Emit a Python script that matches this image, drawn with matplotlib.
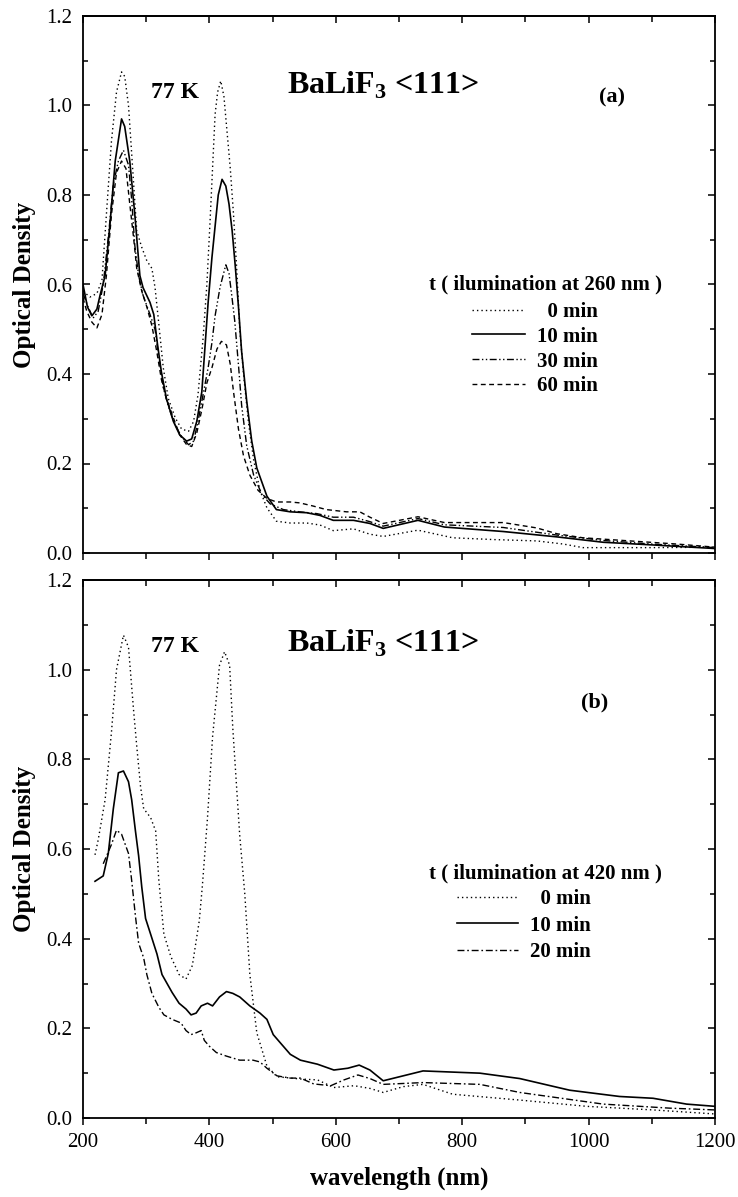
import matplotlib
matplotlib.use("Agg")
import matplotlib.pyplot as plt
from matplotlib.lines import Line2D
from matplotlib.ticker import MultipleLocator, FormatStrFormatter

plt.rcParams['font.family'] = ['Liberation Serif', 'DejaVu Serif']
plt.rcParams['mathtext.fontset'] = 'custom'
plt.rcParams['mathtext.rm'] = 'Liberation Serif'
plt.rcParams['mathtext.bf'] = 'Liberation Serif:bold'

# (a) illumination at 260 nm
a_0min_x = [200, 211, 222, 230, 237, 245, 253, 261, 266, 272, 277, 285, 293, 301, 309, 314, 319, 327,
            335, 346, 356, 367, 375, 382, 390, 396, 401, 405, 409, 413, 418, 423, 428, 433, 438, 443,
            448, 454, 462, 470, 480, 491, 506, 528, 554, 575, 596, 628, 654, 675, 730, 785, 850, 918,
            960, 991, 1100, 1200]
a_0min_y = [0.585, 0.572, 0.58, 0.61, 0.756, 0.92, 1.03, 1.075, 1.065, 1.0, 0.893, 0.72, 0.683, 0.653,
            0.636, 0.593, 0.525, 0.414, 0.345, 0.302, 0.277, 0.272, 0.294, 0.354, 0.48, 0.60, 0.74, 0.86,
            0.98, 1.03, 1.055, 1.02, 0.94, 0.86, 0.76, 0.64, 0.50, 0.40, 0.29, 0.208, 0.14, 0.101, 0.071,
            0.067, 0.067, 0.0625, 0.05, 0.054, 0.042, 0.037, 0.051, 0.034, 0.03, 0.027, 0.02, 0.012,
            0.012, 0.013]

a_10min_x = [200, 207, 214, 222, 227, 235, 243, 251, 261, 266, 274, 282, 290, 295, 306, 312, 318, 324,
             332, 343, 353, 364, 372, 380, 388, 392, 398, 404, 409, 414, 420, 426, 431, 436, 441, 446,
             451, 459, 467, 475, 491, 506, 528, 554, 575, 596, 628, 654, 675, 730, 772, 865, 950, 1023,
             1102, 1150, 1200]
a_10min_y = [0.60, 0.55, 0.53, 0.545, 0.576, 0.62, 0.74, 0.876, 0.97, 0.953, 0.876, 0.756, 0.62, 0.593,
             0.56, 0.533, 0.465, 0.405, 0.345, 0.294, 0.264, 0.25, 0.255, 0.294, 0.36, 0.44, 0.56, 0.66,
             0.73, 0.80, 0.835, 0.82, 0.78, 0.72, 0.64, 0.55, 0.45, 0.34, 0.25, 0.19, 0.127, 0.097, 0.092,
             0.09, 0.084, 0.073, 0.073, 0.066, 0.055, 0.073, 0.058, 0.048, 0.036, 0.024, 0.018, 0.014,
             0.01]

a_30min_x = [200, 208, 216, 224, 232, 240, 248, 256, 264, 272, 277, 282, 288, 295, 306, 314, 319, 327,
             335, 346, 356, 367, 375, 382, 390, 398, 404, 409, 417, 426, 431, 435, 440, 446, 451, 459,
             470, 483, 496, 517, 543, 570, 596, 628, 654, 675, 730, 772, 865, 950, 1023, 1100, 1200]
a_30min_y = [0.58, 0.55, 0.525, 0.54, 0.60, 0.705, 0.824, 0.876, 0.90, 0.867, 0.79, 0.687, 0.62, 0.576,
             0.533, 0.50, 0.448, 0.37, 0.328, 0.285, 0.26, 0.242, 0.25, 0.294, 0.354, 0.414, 0.47, 0.53,
             0.595, 0.644, 0.625, 0.58, 0.52, 0.42, 0.33, 0.24, 0.174, 0.131, 0.11, 0.097, 0.092, 0.088,
             0.08, 0.08, 0.07, 0.06, 0.077, 0.063, 0.057, 0.04, 0.028, 0.02, 0.012]

a_60min_x = [200, 206, 214, 222, 230, 237, 245, 253, 261, 268, 274, 280, 285, 293, 301, 309, 317, 324,
             332, 343, 353, 364, 372, 380, 388, 396, 404, 412, 419, 427, 433, 438, 446, 454, 464, 477,
             491, 506, 528, 543, 564, 585, 617, 638, 654, 675, 730, 772, 865, 918, 950, 991, 1076, 1140,
             1200]
a_60min_y = [0.57, 0.54, 0.516, 0.503, 0.533, 0.62, 0.756, 0.85, 0.876, 0.859, 0.78, 0.705, 0.636, 0.585,
             0.55, 0.508, 0.448, 0.388, 0.345, 0.302, 0.264, 0.242, 0.238, 0.268, 0.32, 0.38, 0.414,
             0.456, 0.473, 0.465, 0.422, 0.362, 0.277, 0.217, 0.174, 0.14, 0.122, 0.114, 0.114, 0.112,
             0.105, 0.097, 0.092, 0.092, 0.08, 0.066, 0.081, 0.068, 0.068, 0.056, 0.043, 0.034, 0.026,
             0.02, 0.013]

# (b) illumination at 420 nm
b_0min_x = [219, 224, 235, 245, 253, 264, 272, 280, 285, 291, 296, 307, 315, 320, 328, 339, 352, 363,
            373, 384, 389, 397, 405, 416, 424, 432, 437, 448, 456, 464, 475, 491, 507, 544, 571, 597,
            629, 654, 675, 707, 738, 785, 891, 997, 1102, 1200]
b_0min_y = [0.587, 0.62, 0.71, 0.86, 1.0, 1.077, 1.05, 0.91, 0.83, 0.74, 0.69, 0.67, 0.64, 0.53, 0.41,
            0.36, 0.32, 0.31, 0.34, 0.44, 0.52, 0.67, 0.85, 1.01, 1.04, 1.01, 0.87, 0.63, 0.50, 0.32,
            0.19, 0.116, 0.092, 0.087, 0.085, 0.068, 0.072, 0.066, 0.057, 0.07, 0.075, 0.053, 0.04,
            0.026, 0.018, 0.009]

b_10min_x = [219, 232, 240, 248, 256, 264, 272, 277, 283, 288, 293, 299, 307, 317, 325, 333, 341, 352,
             363, 371, 379, 387, 397, 405, 416, 427, 437, 448, 464, 480, 491, 501, 512, 528, 544, 571,
             597, 619, 637, 654, 675, 738, 828, 891, 970, 1049, 1102, 1155, 1200]
b_10min_y = [0.528, 0.54, 0.59, 0.69, 0.77, 0.774, 0.75, 0.71, 0.64, 0.585, 0.515, 0.445, 0.41, 0.366,
             0.32, 0.30, 0.28, 0.256, 0.243, 0.23, 0.234, 0.25, 0.256, 0.25, 0.27, 0.282, 0.278, 0.27,
             0.25, 0.234, 0.22, 0.186, 0.168, 0.142, 0.129, 0.12, 0.107, 0.111, 0.118, 0.107, 0.083,
             0.105, 0.10, 0.088, 0.062, 0.048, 0.044, 0.031, 0.026]

b_20min_x = [232, 245, 253, 261, 272, 277, 283, 288, 296, 301, 309, 320, 328, 341, 355, 363, 371, 379,
             387, 392, 400, 411, 427, 448, 469, 480, 491, 507, 528, 544, 565, 592, 613, 635, 654, 675,
             738, 828, 891, 1023, 1128, 1200]
b_20min_y = [0.567, 0.61, 0.642, 0.633, 0.59, 0.53, 0.45, 0.39, 0.357, 0.32, 0.278, 0.247, 0.23, 0.22,
             0.212, 0.195, 0.186, 0.19, 0.195, 0.173, 0.16, 0.146, 0.138, 0.129, 0.129, 0.125, 0.111,
             0.094, 0.089, 0.089, 0.076, 0.072, 0.085, 0.096, 0.088, 0.075, 0.079, 0.075, 0.057, 0.031,
             0.022, 0.018]

a_labels = ['  0 min', '10 min', '30 min', '60 min']
b_labels = ['  0 min', '10 min', '20 min']

dotted = (0, (1, 2.2))
dashed = (0, (3.5, 2.5))
dashdotdot = (0, (5, 1.8, 1, 1.8, 1, 1.8))
dashdot = (0, (5, 2, 1.2, 2))

fig = plt.figure(figsize=(7.38, 11.97), dpi=100)
ax1 = fig.add_axes([83 / 738, 644 / 1197, 632 / 738, 537 / 1197])
ax2 = fig.add_axes([83 / 738, 79 / 1197, 632 / 738, 538 / 1197])


def style_axes(ax, show_xlabels):
    ax.set_xlim(200, 1200)
    ax.set_ylim(0, 1.2)
    ax.xaxis.set_major_locator(MultipleLocator(200))
    ax.xaxis.set_minor_locator(MultipleLocator(100))
    ax.yaxis.set_major_locator(MultipleLocator(0.2))
    ax.yaxis.set_minor_locator(MultipleLocator(0.1))
    ax.yaxis.set_major_formatter(FormatStrFormatter('%.1f'))
    for s in ax.spines.values():
        s.set_linewidth(1.3)
    ax.tick_params(axis='y', which='both', direction='in', left=True, right=True,
                   width=1.1, labelsize=15, pad=8)
    ax.tick_params(axis='y', which='major', length=5)
    ax.tick_params(axis='y', which='minor', length=3.5)
    ax.tick_params(axis='x', which='both', direction='out', bottom=True, top=False,
                   width=1.1, labelsize=15, pad=6, labelbottom=show_xlabels)
    ax.tick_params(axis='x', which='major', length=5)
    ax.tick_params(axis='x', which='minor', length=4)
    sec = ax.secondary_xaxis('top')
    sec.xaxis.set_major_locator(MultipleLocator(200))
    sec.xaxis.set_minor_locator(MultipleLocator(100))
    sec.tick_params(axis='x', which='both', direction='in', width=1.1, labeltop=False)
    sec.tick_params(axis='x', which='major', length=5)
    sec.tick_params(axis='x', which='minor', length=4)
    sec.spines['top'].set_linewidth(1.3)
    ax.set_ylabel('Optical Density', fontsize=18, fontweight='bold', labelpad=7)


def add_key(ax, handles, labels, title, title_xy, key_xy, hlen, spacing):
    ax.text(title_xy[0], title_xy[1], title, fontsize=15, fontweight='bold',
            ha='left', va='center')
    ax.legend(handles, labels, loc='upper left', bbox_to_anchor=key_xy,
              bbox_transform=ax.transData, frameon=False,
              prop={'size': 15, 'weight': 'bold'}, handlelength=hlen,
              handletextpad=0.58, labelspacing=spacing, borderpad=0, borderaxespad=0)


# panel (a)
ax1.plot(a_0min_x, a_0min_y, color='black', lw=1.0, linestyle=dotted)
ax1.plot(a_10min_x, a_10min_y, color='black', lw=1.2, linestyle='-')
ax1.plot(a_30min_x, a_30min_y, color='black', lw=1.0, linestyle=dashdotdot)
ax1.plot(a_60min_x, a_60min_y, color='black', lw=1.0, linestyle=dashed)
style_axes(ax1, False)
ax1.text(346, 1.03, '77 K', fontsize=17, fontweight='bold', ha='center', va='center')
ax1.text(522, 1.027, 'BaLiF$_{\\mathbf{3}}$ <111>', fontsize=23, fontweight='bold',
         ha='left', va='baseline')
ax1.text(1037, 1.017, '(a)', fontsize=16, fontweight='bold', ha='center', va='center')
h1 = [Line2D([], [], color='black', lw=1.0, linestyle=dotted),
      Line2D([], [], color='black', lw=1.2, linestyle='-'),
      Line2D([], [], color='black', lw=1.0, linestyle=dashdotdot),
      Line2D([], [], color='black', lw=1.0, linestyle=dashed)]
add_key(ax1, h1, a_labels, 't ( ilumination at 260 nm )', (747, 0.599), (815, 0.561),
        2.55, 0.23)

# panel (b)
ax2.plot(b_0min_x, b_0min_y, color='black', lw=1.0, linestyle=dotted)
ax2.plot(b_10min_x, b_10min_y, color='black', lw=1.2, linestyle='-')
ax2.plot(b_20min_x, b_20min_y, color='black', lw=1.0, linestyle=dashdot)
style_axes(ax2, True)
ax2.set_xlabel('wavelength (nm)', fontsize=18, fontweight='bold', labelpad=10)
ax2.text(345, 1.051, '77 K', fontsize=17, fontweight='bold', ha='center', va='center')
ax2.text(522, 1.041, 'BaLiF$_{\\mathbf{3}}$ <111>', fontsize=23, fontweight='bold',
         ha='left', va='baseline')
ax2.text(1010, 0.927, '(b)', fontsize=16, fontweight='bold', ha='center', va='center')
h2 = [Line2D([], [], color='black', lw=1.0, linestyle=dotted),
      Line2D([], [], color='black', lw=1.2, linestyle='-'),
      Line2D([], [], color='black', lw=1.0, linestyle=dashdot)]
add_key(ax2, h2, b_labels, 't ( ilumination at 420 nm )', (747, 0.546), (792, 0.511),
        2.9, 0.32)

fig.savefig('out.png', dpi=100)
